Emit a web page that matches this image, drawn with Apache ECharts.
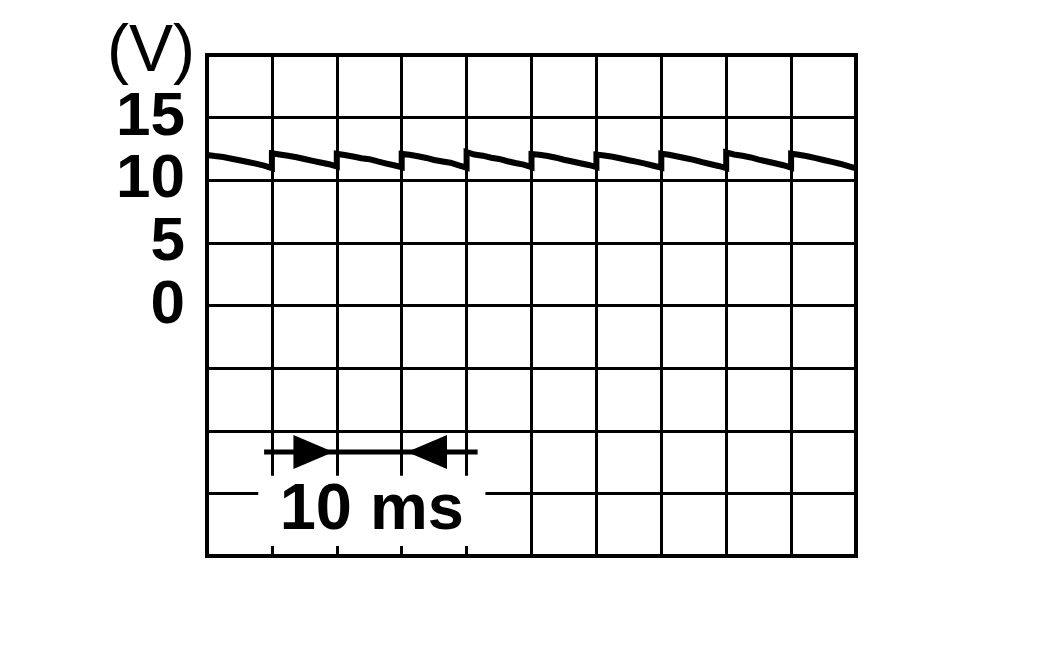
<!DOCTYPE html>
<html><head><meta charset="utf-8">
<script src="https://cdn.jsdelivr.net/npm/echarts@6/dist/echarts.min.js"></script>
<style>html,body{margin:0;padding:0;background:#fff}#c{width:1052px;height:650px}</style>
</head><body><div id="c"></div>
<script>
// Time (ms) of each trace sample
const timeMs = [
  0, 1.2, 2.5, 3.8, 5, 6.3, 7.5, 8.8, 10,
  10, 11.2, 12.5, 13.8, 15, 16.3, 17.5, 18.8, 20,
  20, 21.2, 22.5, 23.8, 25, 26.3, 27.5, 28.8, 30,
  30, 31.2, 32.5, 33.8, 35, 36.3, 37.5, 38.8, 40,
  40, 41.2, 42.5, 43.8, 45, 46.3, 47.5, 48.8, 50,
  50, 51.2, 52.5, 53.8, 55, 56.3, 57.5, 58.8, 60,
  60, 61.2, 62.5, 63.8, 65, 66.3, 67.5, 68.8, 70,
  70, 71.2, 72.5, 73.8, 75, 76.3, 77.5, 78.8, 80,
  80, 81.2, 82.5, 83.8, 85, 86.3, 87.5, 88.8, 90,
  90, 91.2, 92.5, 93.8, 95, 96.3, 97.5, 98.8, 100
];
// Voltage (V) of each trace sample
const volts = [
  12.02, 11.93, 11.85, 11.72, 11.60, 11.46, 11.33, 11.17, 10.97,
  12.15, 12.05, 11.95, 11.84, 11.70, 11.55, 11.42, 11.28, 11.10,
  12.12, 12.02, 11.90, 11.76, 11.68, 11.50, 11.35, 11.20, 11.05,
  12.10, 12.03, 11.92, 11.78, 11.62, 11.50, 11.40, 11.18, 11.00,
  12.25, 12.05, 11.96, 11.80, 11.70, 11.52, 11.38, 11.25, 11.05,
  12.10, 12.04, 11.93, 11.80, 11.64, 11.50, 11.36, 11.22, 11.05,
  12.05, 11.98, 11.88, 11.74, 11.60, 11.47, 11.33, 11.16, 11.00,
  12.12, 12.04, 11.90, 11.76, 11.63, 11.45, 11.30, 11.14, 10.97,
  12.22, 12.06, 11.95, 11.82, 11.65, 11.50, 11.36, 11.20, 11.00,
  12.12, 12.03, 11.92, 11.77, 11.62, 11.47, 11.32, 11.12, 10.95
];
const yTickLabels = { 0: '0', 5: '5', 10: '10', 15: '15' };
const unitLabel = '(V)';
const spanLabel = '10 ms';
// time-span annotation (data units)
const spanLineTime = [8.8, 41.7];
const spanLineVolt = -11.7;
const arrowRight = [16.4, -11.7];
const arrowLeft = [33.9, -11.7];
const labelBoxFrom = [7.9, -13.6];
const labelBoxTo = [42.9, -19.2];

const FONT = '"Liberation Sans", Arial, Helvetica, sans-serif';
const trace = timeMs.map((t, i) => [t, volts[i]]);

const chart = echarts.init(document.getElementById('c'), null, { renderer: 'canvas' });
chart.setOption({
  animation: false,
  backgroundColor: '#fff',
  grid: { left: 207, right: 196, top: 55, bottom: 94, show: true, borderColor: '#000', borderWidth: 4, backgroundColor: 'transparent', containLabel: false },
  xAxis: {
    type: 'value', min: 0, max: 100, interval: 10,
    axisLine: { show: false }, axisTick: { show: false }, axisLabel: { show: false },
    splitLine: { show: true, lineStyle: { color: '#000', width: 3 } }
  },
  yAxis: {
    type: 'value', min: -20, max: 20, interval: 5,
    axisLine: { show: false }, axisTick: { show: false },
    splitLine: { show: true, lineStyle: { color: '#000', width: 3 } },
    axisLabel: {
      show: true, margin: 22, color: '#000', fontFamily: FONT, fontWeight: 'bold', fontSize: 62,
      padding: [8, 0, 0, 0],
      formatter: v => (yTickLabels[v] !== undefined ? yTickLabels[v] : '')
    },
    name: unitLabel, nameLocation: 'end', nameGap: 2,
    nameTextStyle: { color: '#000', fontFamily: FONT, fontWeight: 'normal', fontSize: 66, align: 'right', verticalAlign: 'middle', padding: [0, 12, 0, 0] }
  },
  series: [
    {
      type: 'line', data: trace, showSymbol: false, symbol: 'none',
      lineStyle: { color: '#000', width: 6, join: 'miter' }, z: 5
    },
    {
      type: 'line', data: [[spanLineTime[0], spanLineVolt], [spanLineTime[1], spanLineVolt]],
      showSymbol: false, symbol: 'none', lineStyle: { color: '#000', width: 5 }, z: 5,
      markArea: {
        silent: true,
        itemStyle: { color: '#fff', opacity: 1 },
        label: { show: true, position: 'inside', formatter: spanLabel, color: '#000', fontFamily: FONT, fontWeight: 'bold', fontSize: 65, padding: [8, 0, 0, 0] },
        data: [[{ coord: labelBoxFrom }, { coord: labelBoxTo }]]
      }
    },
    {
      type: 'scatter', data: [arrowRight], symbol: 'path://M0,0L10,5L0,10Z', symbolSize: [40, 34],
      itemStyle: { color: '#000', opacity: 1 }, z: 6
    },
    {
      type: 'scatter', data: [arrowLeft], symbol: 'path://M10,0L0,5L10,10Z', symbolSize: [40, 34],
      itemStyle: { color: '#000', opacity: 1 }, z: 6
    }
  ]
});
</script></body></html>
